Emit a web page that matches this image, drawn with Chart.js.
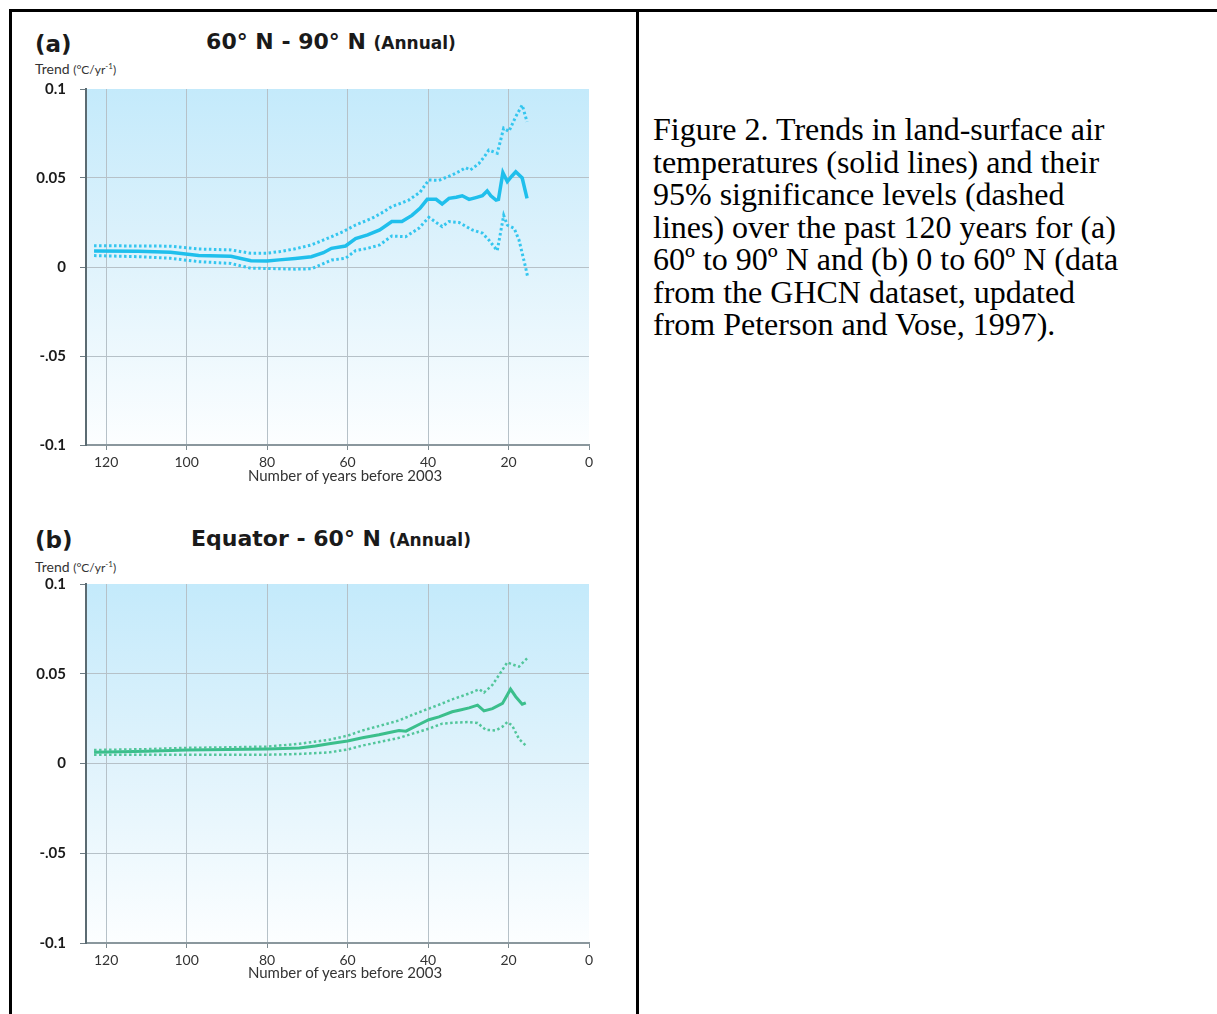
<!DOCTYPE html>
<html>
<head>
<meta charset="utf-8">
<script src="https://cdn.jsdelivr.net/npm/chart.js@4.4.1/dist/chart.umd.min.js"></script>
<style>
  body { margin: 0; background: #fff; width: 1217px; height: 1014px; position: relative; overflow: hidden; font-family: Lato, "Open Sans", sans-serif; }
  .rule { position: absolute; background: #000; }
  .txt { position: absolute; white-space: nowrap; color: #1a1a1a; }
  .panel { font-family: "DejaVu Sans", sans-serif; font-weight: bold; font-size: 23px; line-height: 22px; }
  .title { font-family: "DejaVu Sans", sans-serif; font-weight: bold; font-size: 22px; line-height: 24px; text-align: center; width: 400px; }
  .title small { font-size: 17px; }
  .unit { font-size: 14px; line-height: 16px; color: #333; }
  .unit span { font-size: 12px; }
  .unit sup { font-size: 8px; }
  .xname { font-size: 15px; line-height: 18px; color: #333; text-align: center; width: 400px; }
  .caption { left: 653px; top: 113px; font-family: "Liberation Serif", "Times New Roman", serif; font-size: 32px; line-height: 32.5px; color: #000; }
  canvas { position: absolute; }
</style>
</head>
<body>
<div class="rule" style="left:9px; top:9px; width:1208px; height:3px"></div>
<div class="rule" style="left:9px; top:9px; width:3px; height:1005px"></div>
<div class="rule" style="left:636px; top:9px; width:3px; height:1005px"></div>

<div class="txt panel" style="left:35px; top:33px">(a)</div>
<div class="txt title" style="left:131px; top:30px">60° N - 90° N <small>(Annual)</small></div>
<div class="txt unit" style="left:35px; top:58px">Trend <span>(°C/yr<sup>-1</sup>)</span></div>
<canvas id="chartA" width="600" height="434" style="left:20px; top:66px"></canvas>
<div class="txt xname" style="left:145px; top:466px">Number of years before 2003</div>

<div class="txt panel" style="left:35px; top:529px">(b)</div>
<div class="txt title" style="left:131px; top:527px">Equator - 60° N <small>(Annual)</small></div>
<div class="txt unit" style="left:35px; top:556px">Trend <span>(°C/yr<sup>-1</sup>)</span></div>
<canvas id="chartB" width="600" height="437" style="left:20px; top:561px"></canvas>
<div class="txt xname" style="left:145px; top:963px">Number of years before 2003</div>

<div class="txt caption">Figure 2. Trends in land-surface air<br>temperatures (solid lines) and their<br>95% significance levels (dashed<br>lines) over the past 120 years for (a)<br>60º to 90º N and (b) 0 to 60º N (data<br>from the GHCN dataset, updated<br>from Peterson and Vose, 1997).</div>

<script>
  const xTicks = [120, 100, 80, 60, 40, 20, 0];
  const yTicks = [-0.1, -0.05, 0, 0.05, 0.1];
  const yTickLabels = ['-0.1', '-.05', '0', '0.05', '0.1'];

  // (a) 60N - 90N
  const yearsTrendA = [123, 112, 104, 97, 89, 84, 80, 77, 73, 69, 66, 64, 60.5, 58, 55, 52, 49, 46.5, 44, 42, 40.2, 38, 36.5, 34.8, 33, 31.5, 29.8, 28.1, 26.5, 25.3, 24.4, 23.1, 22.5, 21.4, 20.3, 19.2, 18.2, 16.6, 15.4];
  const trendA = [0.009, 0.0088, 0.0083, 0.0064, 0.006, 0.0035, 0.0034, 0.004, 0.0048, 0.0058, 0.008, 0.0105, 0.0118, 0.016, 0.018, 0.0208, 0.0255, 0.0255, 0.029, 0.033, 0.038, 0.038, 0.0354, 0.0386, 0.0392, 0.040, 0.038, 0.039, 0.040, 0.0427, 0.040, 0.0376, 0.038, 0.053, 0.048, 0.051, 0.0535, 0.050, 0.0386];
  const yearsUpperA = [123, 112, 104, 97, 89, 84, 80, 77, 73, 69, 64, 61, 58, 54, 51, 49, 46.5, 44.8, 42, 39.8, 37.3, 34, 32, 30.7, 29.5, 27.4, 26, 24.9, 22.8, 21.2, 19.9, 18.2, 16.6, 15.4];
  const upperA = [0.012, 0.0118, 0.0117, 0.0101, 0.0096, 0.0077, 0.0078, 0.0086, 0.0102, 0.0124, 0.017, 0.02, 0.0236, 0.0273, 0.031, 0.034, 0.036, 0.0376, 0.042, 0.0489, 0.0487, 0.0517, 0.054, 0.0558, 0.0545, 0.058, 0.062, 0.0657, 0.0639, 0.078, 0.0762, 0.0845, 0.091, 0.0816];
  const yearsLowerA = [123, 112, 104, 97, 89, 84, 80, 77, 73, 69, 64, 60.5, 58, 55, 52, 49, 45.6, 42.3, 39.8, 36.5, 34.8, 32.3, 29, 26.5, 24.9, 22.8, 21.2, 20.3, 18.6, 17.4, 15.8, 15.2];
  const lowerA = [0.0064, 0.0058, 0.0049, 0.003, 0.002, -0.0007, -0.0008, -0.001, -0.0012, -0.001, 0.0039, 0.0049, 0.0092, 0.0105, 0.0124, 0.0174, 0.017, 0.0217, 0.0279, 0.0227, 0.0255, 0.025, 0.0208, 0.019, 0.0152, 0.0092, 0.029, 0.0236, 0.0217, 0.0152, 0.0002, -0.006];

  // (b) Equator - 60N
  const yearsTrendB = [123, 110, 100, 90, 80, 72, 68, 64.6, 60, 56.3, 52.2, 49, 47.2, 45.5, 42, 39.8, 37.3, 34, 32, 29.8, 27.7, 26.1, 24, 21.5, 19.5, 18.2, 16.6, 15.7];
  const trendB = [0.0062, 0.0068, 0.0075, 0.0078, 0.0081, 0.0087, 0.0098, 0.011, 0.0125, 0.0143, 0.016, 0.0175, 0.0184, 0.018, 0.022, 0.0244, 0.026, 0.0288, 0.0298, 0.031, 0.0325, 0.0293, 0.0306, 0.0335, 0.0414, 0.0372, 0.033, 0.0338];
  const yearsUpperB = [123, 110, 100, 90, 80, 72, 64.6, 60, 56.3, 52, 47.2, 44, 39.8, 37, 34, 29.8, 27.3, 26.1, 24, 21.5, 20.3, 18.8, 17.4, 15.4];
  const upperB = [0.0075, 0.008, 0.0087, 0.009, 0.0094, 0.011, 0.0132, 0.0155, 0.0184, 0.021, 0.024, 0.027, 0.0306, 0.033, 0.0357, 0.039, 0.0414, 0.0395, 0.0438, 0.0522, 0.0564, 0.055, 0.054, 0.0585];
  const yearsLowerB = [123, 110, 100, 90, 80, 72, 64.6, 60, 56.3, 52, 47.2, 44, 39.8, 36.5, 33, 29.8, 27.7, 25.7, 23.2, 21.5, 20.3, 19.1, 17.4, 15.4];
  const lowerB = [0.0049, 0.0049, 0.0049, 0.0049, 0.0049, 0.0053, 0.0062, 0.0078, 0.010, 0.012, 0.0143, 0.0165, 0.0194, 0.0222, 0.0228, 0.0231, 0.0226, 0.0188, 0.0184, 0.0205, 0.0231, 0.0212, 0.0137, 0.0094];

  const pts = (xs, ys) => xs.map((x, i) => ({ x, y: ys[i] }));

  const plotBg = {
    id: 'plotBg',
    beforeDraw(chart) {
      const { ctx, chartArea: a } = chart;
      const g = ctx.createLinearGradient(0, a.top, 0, a.bottom);
      g.addColorStop(0, '#c4eafb');
      g.addColorStop(0.5, '#e0f3fc');
      g.addColorStop(1, '#fcfeff');
      ctx.save();
      ctx.fillStyle = g;
      ctx.fillRect(a.left, a.top, a.width, a.height);
      ctx.restore();
    }
  };

  function dotted(data, color, width) {
    return { data, borderColor: color, borderWidth: width, borderDash: [2.5, 2.5], pointRadius: 0, tension: 0 };
  }

  function makeChart(id, upper, lower, trend, dotColor, color, width) {
    new Chart(document.getElementById(id), {
      type: 'line',
      data: {
        datasets: [
          dotted(upper, dotColor, width - 0.5),
          dotted(lower, dotColor, width - 0.5),
          { data: trend, borderColor: color, borderWidth: width, pointRadius: 0, tension: 0 }
        ]
      },
      options: {
        responsive: false,
        animation: false,
        devicePixelRatio: 1,
        layout: { padding: { top: 0, right: 31, left: 0, bottom: 0 } },
        plugins: { legend: { display: false }, tooltip: { enabled: false } },
        scales: {
          x: {
            type: 'linear', reverse: true, min: 0, max: 125,
            afterBuildTicks: (s) => { s.ticks = xTicks.map((v) => ({ value: v })); },
            afterFit: (s) => { s.height = 55; },
            grid: {
              color: (c) => (c.tick && c.tick.value === 0 ? 'rgba(0,0,0,0)' : '#b6c1c8'),
              tickColor: '#7f8c92', tickLength: 5, lineWidth: 1
            },
            border: { color: '#8a979d', width: 2 },
            ticks: { color: '#333', padding: 4, font: { family: 'Lato', size: 14 }, maxRotation: 0 }
          },
          y: {
            min: -0.1, max: 0.1,
            afterBuildTicks: (s) => { s.ticks = yTicks.map((v) => ({ value: v })); },
            afterFit: (s) => { s.width = 66; },
            grid: {
              color: (c) => (c.tick && Math.abs(c.tick.value) > 0.09 ? 'rgba(0,0,0,0)' : '#b6c1c8'),
              tickColor: '#6d7b82', tickLength: 6, lineWidth: 1
            },
            border: { color: '#5b6b72', width: 2 },
            ticks: {
              color: '#1a1a1a', padding: 14,
              font: { family: 'Lato', size: 15, weight: 'bold' },
              callback: (v) => yTickLabels[yTicks.findIndex((t) => Math.abs(t - v) < 1e-9)]
            }
          }
        }
      },
      plugins: [plotBg]
    });
  }

  makeChart('chartA', pts(yearsUpperA, upperA), pts(yearsLowerA, lowerA), pts(yearsTrendA, trendA), '#34c6ef', '#1fbfec', 3.5);
  makeChart('chartB', pts(yearsUpperB, upperB), pts(yearsLowerB, lowerB), pts(yearsTrendB, trendB), '#52c69b', '#3bbf8c', 3);
</script>
</body>
</html>
